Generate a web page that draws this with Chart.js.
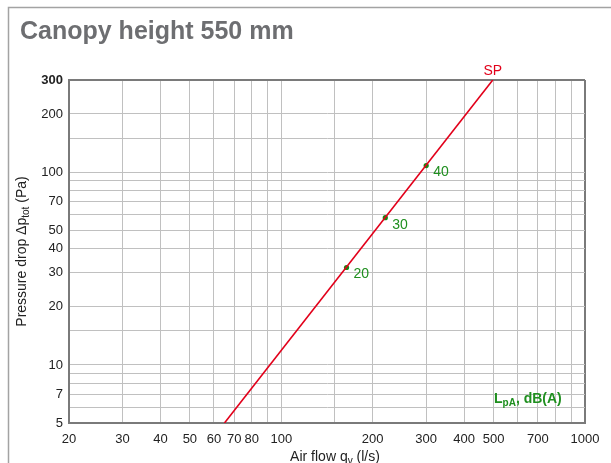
<!DOCTYPE html>
<html>
<head>
<meta charset="utf-8">
<script src="https://cdn.jsdelivr.net/npm/chart.js@4.4.0/dist/chart.umd.min.js"></script>
<style>
  html, body { margin: 0; padding: 0; background: #fff; }
  canvas { display: block; }
</style>
</head>
<body>
<canvas id="dropChart" width="611" height="463"></canvas>
<script>
// SP curve (air flow l/s -> pressure drop Pa)
const spFlow = [65, 497];
const spDrop = [5, 300];

// sound level markers on the curve
const dbLevels = [20, 30, 40];
const dbFlow = [164, 220, 300];
const dbDrop = [32, 58, 108];

// tick labels shown on the axes
const xTickLabels = [20, 30, 40, 50, 60, 70, 80, 100, 200, 300, 400, 500, 700, 1000];
const yTickLabels = [5, 7, 10, 20, 30, 40, 50, 70, 100, 200, 300];

const FONT = "'Liberation Sans', Arial, Helvetica, sans-serif";
const GREEN = '#1f8f1f';
const RED = '#e2001a';

// draws text pieces with subscripts
function drawParts(c, parts, x, y, align) {
  let total = 0;
  parts.forEach(p => {
    c.font = p.font;
    total += c.measureText(p.text).width;
  });
  let cx = align === 'center' ? x - total / 2 : x;
  parts.forEach(p => {
    c.font = p.font;
    c.fillText(p.text, cx, y + (p.dy || 0));
    cx += c.measureText(p.text).width;
  });
}

const overlay = {
  id: 'overlay',
  beforeDraw(chart) {
    const c = chart.ctx;
    c.save();
    c.fillStyle = '#fff';
    c.fillRect(0, 0, chart.width, chart.height);
    c.strokeStyle = '#a3a3a3';
    c.lineWidth = 1.5;
    c.beginPath();
    c.moveTo(8.5, chart.height);
    c.lineTo(8.5, 7.5);
    c.lineTo(chart.width, 7.5);
    c.stroke();
    c.restore();
  },
  afterDraw(chart) {
    const c = chart.ctx;
    const area = chart.chartArea;
    c.save();

    // title
    c.fillStyle = '#6d6e71';
    c.font = 'bold 25px ' + FONT;
    c.textAlign = 'left';
    c.textBaseline = 'alphabetic';
    c.fillText('Canopy height 550 mm', 20, 39);

    // axis titles
    c.fillStyle = '#222';
    drawParts(c, [
      { text: 'Air flow q', font: '14px ' + FONT },
      { text: 'v', font: '10px ' + FONT, dy: 3 },
      { text: ' (l/s)', font: '14px ' + FONT }
    ], (area.left + area.right) / 2 + 8, 461, 'center');

    c.save();
    c.translate(26, (area.top + area.bottom) / 2);
    c.rotate(-Math.PI / 2);
    drawParts(c, [
      { text: 'Pressure drop \u0394p', font: '14px ' + FONT },
      { text: 'tot', font: '10px ' + FONT, dy: 3 },
      { text: ' (Pa)', font: '14px ' + FONT }
    ], 0, 0, 'center');
    c.restore();

    // SP label at the end of the curve
    const sp = chart.getDatasetMeta(0).data;
    const end = sp[sp.length - 1];
    c.fillStyle = RED;
    c.font = '14px ' + FONT;
    c.textAlign = 'center';
    c.textBaseline = 'middle';
    c.fillText('SP', end.x, end.y - 9);

    // dB labels next to the markers
    c.fillStyle = GREEN;
    c.textAlign = 'left';
    chart.getDatasetMeta(1).data.forEach((pt, i) => {
      c.fillText(String(dbLevels[i]), pt.x + 7, pt.y + 7);
    });

    // LpA legend text
    c.textBaseline = 'alphabetic';
    drawParts(c, [
      { text: 'L', font: 'bold 14px ' + FONT },
      { text: 'pA', font: 'bold 10px ' + FONT, dy: 3 },
      { text: ', dB(A)', font: 'bold 14px ' + FONT }
    ], 494, 403, 'left');

    c.restore();
  }
};

const ctx = document.getElementById('dropChart').getContext('2d');
new Chart(ctx, {
  type: 'scatter',
  data: {
    datasets: [{
      label: 'SP',
      data: spFlow.map((q, i) => ({ x: q, y: spDrop[i] })),
      showLine: true,
      borderColor: RED,
      borderWidth: 1.6,
      pointRadius: 0,
      pointHoverRadius: 0
    }, {
      label: 'LpA',
      data: dbFlow.map((q, i) => ({ x: q, y: dbDrop[i] })),
      showLine: false,
      pointRadius: 2.6,
      backgroundColor: '#138a13',
      borderColor: '#138a13',
      borderWidth: 0
    }]
  },
  options: {
    responsive: false,
    animation: false,
    layout: { padding: { top: 80, right: 26, left: 0, bottom: 0 } },
    plugins: {
      legend: { display: false },
      tooltip: { enabled: false }
    },
    scales: {
      x: {
        type: 'logarithmic',
        min: 20,
        max: 1000,
        afterFit: s => { s.height = 40; },
        border: { display: true, color: '#7a7a7a', width: 2 },
        grid: {
          drawTicks: false,
          color: c => c.tick && c.tick.value === 1000 ? '#7a7a7a' : '#c0c0c0',
          lineWidth: c => c.tick && c.tick.value === 1000 ? 2 : 1
        },
        ticks: {
          autoSkip: false,
          maxRotation: 0,
          padding: 9,
          color: '#222',
          font: { family: FONT, size: 13 },
          callback: v => xTickLabels.includes(v) ? String(v) : ''
        }
      },
      y: {
        type: 'logarithmic',
        min: 5,
        max: 300,
        afterFit: s => { s.width = 69; },
        border: { display: true, color: '#7a7a7a', width: 2 },
        grid: {
          drawTicks: false,
          color: c => c.tick && c.tick.value === 300 ? '#7a7a7a' : '#c0c0c0',
          lineWidth: c => c.tick && c.tick.value === 300 ? 2 : 1
        },
        ticks: {
          autoSkip: false,
          padding: 6,
          color: '#222',
          font: c => ({ family: FONT, size: 13, weight: c.tick && c.tick.value === 300 ? 'bold' : 'normal' }),
          callback: v => yTickLabels.includes(v) ? String(v) : ''
        }
      }
    }
  },
  plugins: [overlay]
});
</script>
</body>
</html>
